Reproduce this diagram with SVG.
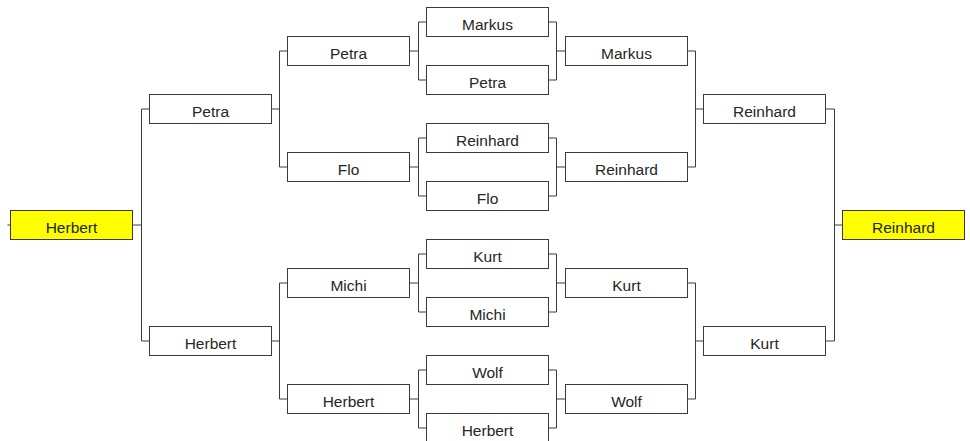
<svg xmlns="http://www.w3.org/2000/svg" width="970" height="441" viewBox="0 0 970 441">
<style>
.box{fill:#ffffff;stroke:#3a3a3a;stroke-width:1}
.win{fill:#ffff00;stroke:#3a3a3a;stroke-width:1}
.lbl{font-family:"Liberation Sans",Arial,sans-serif;font-size:15.5px;fill:#262626;text-anchor:middle}
.con{fill:none;stroke:#3a3a3a;stroke-width:1}
</style>
<rect width="970" height="441" fill="#ffffff"/>
<g id="connectors" class="con">
<path d="M7.5,225H10.5 M132.5,225H141.5 M141.5,109V341 M141.5,109H149.5 M141.5,341H149.5"/>
<path d="M271.5,109H279.5 M279.5,51V167 M279.5,51H287.5 M279.5,167H287.5"/>
<path d="M271.5,341H279.5 M279.5,283V399 M279.5,283H287.5 M279.5,399H287.5"/>
<path d="M409.5,51H418.5 M418.5,22V80 M418.5,22H426.5 M418.5,80H426.5"/>
<path d="M409.5,167H418.5 M418.5,138V196 M418.5,138H426.5 M418.5,196H426.5"/>
<path d="M409.5,283H418.5 M418.5,254V312 M418.5,254H426.5 M418.5,312H426.5"/>
<path d="M409.5,399H418.5 M418.5,370V428 M418.5,370H426.5 M418.5,428H426.5"/>
<path d="M548.5,22H556.5 M548.5,80H556.5 M556.5,22V80 M556.5,51H565.5"/>
<path d="M548.5,138H556.5 M548.5,196H556.5 M556.5,138V196 M556.5,167H565.5"/>
<path d="M548.5,254H556.5 M548.5,312H556.5 M556.5,254V312 M556.5,283H565.5"/>
<path d="M548.5,370H556.5 M548.5,428H556.5 M556.5,370V428 M556.5,399H565.5"/>
<path d="M687.5,51H695.5 M687.5,167H695.5 M695.5,51V167 M695.5,109H703.5"/>
<path d="M687.5,283H695.5 M687.5,399H695.5 M695.5,283V399 M695.5,341H703.5"/>
<path d="M825.5,109H834.5 M825.5,341H834.5 M834.5,109V341 M834.5,225H842.5"/>
</g>
<g id="n-left-final"><rect class="win" x="10.5" y="210.5" width="122" height="29"/><text class="lbl" x="71.5" y="233">Herbert</text></g>
<g id="n-l1-petra"><rect class="box" x="149.5" y="94.5" width="122" height="29"/><text class="lbl" x="210.5" y="117">Petra</text></g>
<g id="n-l1-herbert"><rect class="box" x="149.5" y="326.5" width="122" height="29"/><text class="lbl" x="210.5" y="349">Herbert</text></g>
<g id="n-l2-petra"><rect class="box" x="287.5" y="36.5" width="122" height="29"/><text class="lbl" x="348.5" y="59">Petra</text></g>
<g id="n-l2-flo"><rect class="box" x="287.5" y="152.5" width="122" height="29"/><text class="lbl" x="348.5" y="175">Flo</text></g>
<g id="n-l2-michi"><rect class="box" x="287.5" y="268.5" width="122" height="29"/><text class="lbl" x="348.5" y="291">Michi</text></g>
<g id="n-l2-herbert"><rect class="box" x="287.5" y="384.5" width="122" height="29"/><text class="lbl" x="348.5" y="407">Herbert</text></g>
<g id="n-c-markus"><rect class="box" x="426.5" y="7.5" width="122" height="29"/><text class="lbl" x="487.5" y="30">Markus</text></g>
<g id="n-c-petra"><rect class="box" x="426.5" y="65.5" width="122" height="29"/><text class="lbl" x="487.5" y="88">Petra</text></g>
<g id="n-c-reinhard"><rect class="box" x="426.5" y="123.5" width="122" height="29"/><text class="lbl" x="487.5" y="146">Reinhard</text></g>
<g id="n-c-flo"><rect class="box" x="426.5" y="181.5" width="122" height="29"/><text class="lbl" x="487.5" y="204">Flo</text></g>
<g id="n-c-kurt"><rect class="box" x="426.5" y="239.5" width="122" height="29"/><text class="lbl" x="487.5" y="262">Kurt</text></g>
<g id="n-c-michi"><rect class="box" x="426.5" y="297.5" width="122" height="29"/><text class="lbl" x="487.5" y="320">Michi</text></g>
<g id="n-c-wolf"><rect class="box" x="426.5" y="355.5" width="122" height="29"/><text class="lbl" x="487.5" y="378">Wolf</text></g>
<g id="n-c-herbert"><rect class="box" x="426.5" y="413.5" width="122" height="29"/><text class="lbl" x="487.5" y="436">Herbert</text></g>
<g id="n-r2-markus"><rect class="box" x="565.5" y="36.5" width="122" height="29"/><text class="lbl" x="626.5" y="59">Markus</text></g>
<g id="n-r2-reinhard"><rect class="box" x="565.5" y="152.5" width="122" height="29"/><text class="lbl" x="626.5" y="175">Reinhard</text></g>
<g id="n-r2-kurt"><rect class="box" x="565.5" y="268.5" width="122" height="29"/><text class="lbl" x="626.5" y="291">Kurt</text></g>
<g id="n-r2-wolf"><rect class="box" x="565.5" y="384.5" width="122" height="29"/><text class="lbl" x="626.5" y="407">Wolf</text></g>
<g id="n-r1-reinhard"><rect class="box" x="703.5" y="94.5" width="122" height="29"/><text class="lbl" x="764.5" y="117">Reinhard</text></g>
<g id="n-r1-kurt"><rect class="box" x="703.5" y="326.5" width="122" height="29"/><text class="lbl" x="764.5" y="349">Kurt</text></g>
<g id="n-right-final"><rect class="win" x="842.5" y="210.5" width="122" height="29"/><text class="lbl" x="903.5" y="233">Reinhard</text></g>
</svg>
